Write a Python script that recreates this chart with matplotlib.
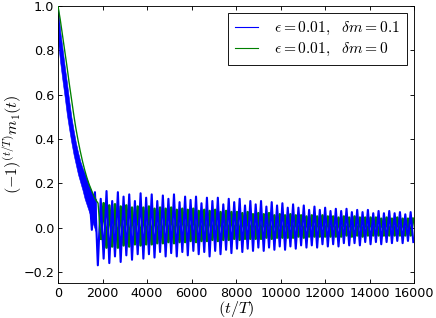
import matplotlib
matplotlib.use("Agg")
import matplotlib.pyplot as plt
from matplotlib.lines import Line2D
import numpy as np

# blue run (eps=0.01, dm=0.1): early decay is a fuzzy band, read as edges
band_t  = [0, 100, 200, 300, 400, 500, 600, 700, 800, 900, 1000, 1100, 1200, 1300, 1400, 1500, 1600, 1700]
band_hi = [1.0, 0.885, 0.81, 0.73, 0.655, 0.575, 0.50, 0.44, 0.385, 0.34, 0.30, 0.27, 0.245, 0.22, 0.19, 0.165, 0.145, 0.13]
band_lo = [0.84, 0.745, 0.665, 0.59, 0.51, 0.445, 0.385, 0.33, 0.285, 0.24, 0.205, 0.17, 0.13, 0.10, 0.07, 0.04, 0.01, -0.02]

# blue oscillation, peaks and troughs
blue_peak_t = [1400, 1660, 1920, 2180, 2435, 2690, 2945, 3200, 3455, 3710,
               3960, 4210, 4460, 4710, 4960, 5210, 5460, 5710, 5955, 6200,
               6445, 6690, 6935, 7180, 7425, 7670, 7915, 8160, 8400, 8640,
               8880, 9120, 9360, 9600, 9840, 10080, 10320, 10560, 10800, 11040,
               11280, 11520, 11760, 12000, 12240, 12480, 12720, 12960, 13200, 13440,
               13680, 13920, 14160, 14400, 14640, 14880, 15120, 15360, 15600, 15840]
blue_peak_v = [0.17, 0.16, 0.13, 0.165, 0.12, 0.16, 0.14, 0.15, 0.12, 0.155,
               0.135, 0.15, 0.12, 0.145, 0.13, 0.15, 0.115, 0.14, 0.125, 0.14,
               0.11, 0.135, 0.12, 0.135, 0.105, 0.13, 0.115, 0.13, 0.10, 0.12,
               0.105, 0.12, 0.095, 0.115, 0.10, 0.11, 0.09, 0.105, 0.09, 0.10,
               0.08, 0.095, 0.08, 0.09, 0.075, 0.085, 0.075, 0.085, 0.07, 0.08,
               0.07, 0.08, 0.065, 0.075, 0.065, 0.075, 0.065, 0.07, 0.06, 0.07]
blue_trough_t = [1520, 1790, 2050, 2305, 2560, 2815, 3070, 3325, 3580, 3835,
                 4085, 4335, 4585, 4835, 5085, 5335, 5585, 5830, 6080, 6320,
                 6570, 6810, 7060, 7300, 7550, 7790, 8040, 8280, 8520, 8760,
                 9000, 9240, 9480, 9720, 9960, 10200, 10440, 10680, 10920, 11160,
                 11400, 11640, 11880, 12120, 12360, 12600, 12840, 13080, 13320, 13560,
                 13800, 14040, 14280, 14520, 14760, 15000, 15240, 15480, 15720, 15960]
blue_trough_v = [-0.01, -0.17, -0.14, -0.16, -0.13, -0.155, -0.125, -0.145, -0.12, -0.14,
                 -0.12, -0.135, -0.11, -0.13, -0.115, -0.13, -0.11, -0.125, -0.105, -0.12,
                 -0.11, -0.13, -0.105, -0.12, -0.10, -0.115, -0.095, -0.11, -0.095, -0.105,
                 -0.09, -0.105, -0.09, -0.10, -0.085, -0.10, -0.085, -0.095, -0.08, -0.09,
                 -0.08, -0.09, -0.075, -0.085, -0.075, -0.085, -0.07, -0.08, -0.07, -0.08,
                 -0.065, -0.075, -0.065, -0.075, -0.065, -0.07, -0.06, -0.07, -0.06, -0.065]

# green run (eps=0.01, dm=0): smooth decay then smaller oscillation
green_t = [0, 100, 200, 300, 400, 500, 600, 700, 800, 900, 1000, 1100, 1200, 1300, 1400, 1500, 1600, 1700, 1800]
green_v = [1.0, 0.94, 0.87, 0.80, 0.73, 0.655, 0.585, 0.515, 0.45, 0.395, 0.345, 0.30, 0.26, 0.225, 0.195, 0.17, 0.145, 0.125, 0.11]
green_peak_t = blue_trough_t[2:]
green_peak_v = [0.11, 0.10, 0.105, 0.095, 0.10, 0.09, 0.095, 0.09, 0.095, 0.085,
                0.09, 0.085, 0.09, 0.08, 0.085, 0.08, 0.085, 0.075, 0.08, 0.075,
                0.08, 0.07, 0.075, 0.07, 0.07, 0.065, 0.07, 0.06, 0.065, 0.06,
                0.065, 0.055, 0.06, 0.055, 0.06, 0.055, 0.055, 0.05, 0.055, 0.05,
                0.055, 0.05, 0.05, 0.045, 0.05, 0.045, 0.05, 0.045, 0.045, 0.045,
                0.045, 0.04, 0.045, 0.04, 0.045, 0.04, 0.04, 0.04]
green_trough_t = blue_peak_t[2:]
green_trough_v = [-0.05, -0.09, -0.085, -0.09, -0.08, -0.085, -0.075, -0.08, -0.075, -0.075,
                  -0.07, -0.07, -0.065, -0.07, -0.065, -0.065, -0.06, -0.065, -0.06, -0.06,
                  -0.055, -0.06, -0.055, -0.055, -0.05, -0.055, -0.05, -0.05, -0.05, -0.05,
                  -0.045, -0.05, -0.045, -0.045, -0.045, -0.045, -0.04, -0.045, -0.04, -0.04,
                  -0.04, -0.04, -0.04, -0.04, -0.04, -0.035, -0.04, -0.035, -0.04, -0.035,
                  -0.035, -0.035, -0.035, -0.035, -0.035, -0.035, -0.035, -0.035]

labels = [r'$\epsilon=0.01,\ \ \delta m=0.1$', r'$\epsilon=0.01,\ \ \delta m=0$']


def merge(ta, va, tb, vb):
    # put peaks and troughs back into time order
    t = np.concatenate([ta, tb])
    v = np.concatenate([va, vb])
    i = np.argsort(t)
    return t[i], v[i]


plt.rcParams['mathtext.fontset'] = 'cm'
plt.rcParams['font.size'] = 11.5
plt.rcParams['xtick.direction'] = 'in'
plt.rcParams['ytick.direction'] = 'in'
plt.rcParams['xtick.top'] = True
plt.rcParams['ytick.right'] = True
plt.rcParams['xtick.major.size'] = 4
plt.rcParams['ytick.major.size'] = 4

fig = plt.figure(figsize=(5.45, 3.975), dpi=80)
ax = fig.add_axes([0.133, 0.110, 0.817, 0.871])

bt, bv = merge(blue_peak_t, blue_peak_v, blue_trough_t, blue_trough_v)
gt, gv = merge(green_peak_t, green_peak_v, green_trough_t, green_trough_v)

ax.plot(gt, gv, color='g', lw=2.4, zorder=1)
ax.fill_between(band_t, band_lo, band_hi, color='b', lw=0.5, zorder=2)
ax.plot(bt, bv, color='b', lw=1.9, zorder=2)
ax.plot(list(green_t) + [gt[0]], list(green_v) + [gv[0]], color='g', lw=1.2, zorder=3)

ax.set_xlim(0, 16000)
ax.set_ylim(-0.25, 1.0)
ax.set_xticks(np.arange(0, 16001, 2000))
ax.set_yticks([-0.2, 0.0, 0.2, 0.4, 0.6, 0.8, 1.0])
ax.set_xlabel(r'$(t/T)$', fontsize=14.5, labelpad=-1)
ax.set_ylabel(r'$(-1)^{(t/T)}m_1(t)$', fontsize=14.5, labelpad=-1)

handles = [Line2D([], [], color='b', lw=1), Line2D([], [], color='g', lw=1)]
leg = ax.legend(handles, labels, loc='upper right', fancybox=False, framealpha=1,
                edgecolor='k', fontsize=14, borderaxespad=0.45, handlelength=1.5,
                handletextpad=1.0, borderpad=0.45, labelspacing=0.25)
leg.get_frame().set_linewidth(0.8)

fig.savefig('out.png', dpi=80)
